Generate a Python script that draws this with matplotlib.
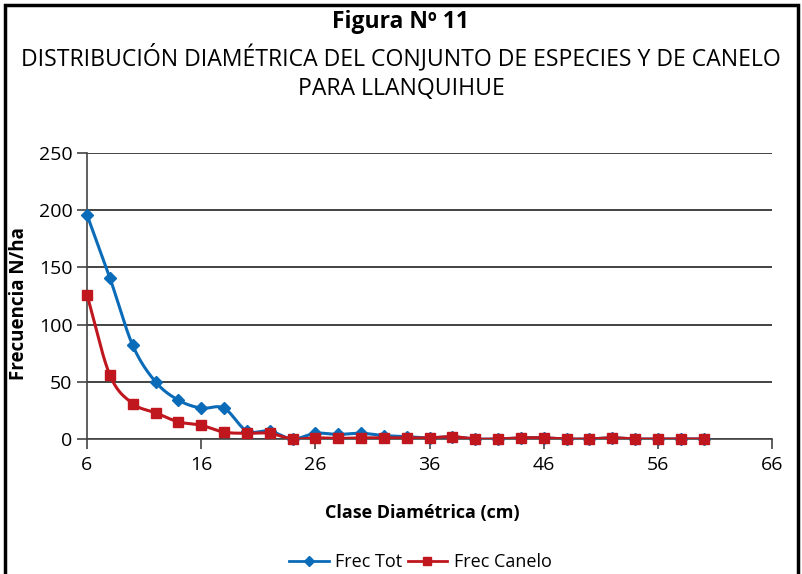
import numpy as np
import matplotlib
matplotlib.use("Agg")
import matplotlib.pyplot as plt
from matplotlib.patches import Rectangle

clase = [6, 8, 10, 12, 14, 16, 18, 20, 22, 24, 26, 28, 30, 32, 34, 36, 38, 40,
         42, 44, 46, 48, 50, 52, 54, 56, 58, 60]
frec_tot = [196, 141, 82, 50, 34, 27, 27, 7, 7, 0, 5, 4, 5, 3, 2, 1, 2, 0,
            0, 1, 1, 0, 0, 1, 0, 0, 0, 0]
frec_canelo = [126, 56, 31, 23, 15, 12, 6, 5, 5, 0, 1, 0.5, 1, 1, 1, 1, 2, 0,
               0, 1, 1, 0, 0, 1, 0, 0, 0, 0]
x_ticks = [6, 16, 26, 36, 46, 56, 66]
y_ticks = [0, 50, 100, 150, 200, 250]

plt.rcParams['font.family'] = ['Open Sans', 'DejaVu Sans']


def smooth(x, y, n=20):
    x = np.asarray(x, float)
    y = np.asarray(y, float)
    px = np.concatenate([[2 * x[0] - x[1]], x, [2 * x[-1] - x[-2]]])
    py = np.concatenate([[2 * y[0] - y[1]], y, [2 * y[-1] - y[-2]]])
    xs, ys = [], []
    t = np.linspace(0, 1, n, endpoint=False)
    for i in range(1, len(px) - 2):
        p0, p1, p2, p3 = (np.array([px[j], py[j]]) for j in range(i - 1, i + 3))
        for tt in t:
            pt = 0.5 * ((2 * p1) + (-p0 + p2) * tt + (2 * p0 - 5 * p1 + 4 * p2 - p3) * tt ** 2
                        + (-p0 + 3 * p1 - 3 * p2 + p3) * tt ** 3)
            xs.append(pt[0]); ys.append(pt[1])
    xs.append(x[-1]); ys.append(y[-1])
    return np.array(xs), np.array(ys)


fig = plt.figure(figsize=(8.02, 5.74), dpi=100)
W, H = 802, 574
ax = fig.add_axes([87 / W, 1 - 439 / H, (772 - 87) / W, (439 - 153) / H])

blue = '#0A6BB8'
red = '#C0161E'

sx, sy = smooth(clase, frec_tot)
ax.plot(sx, sy, color=blue, lw=2.2, zorder=3)
ax.plot(clase, frec_tot, ls='none', marker='D', ms=6.5, color=blue, zorder=4, clip_on=False)
sx, sy = smooth(clase, frec_canelo)
ax.plot(sx, sy, color=red, lw=2.2, zorder=5)
ax.plot(clase, frec_canelo, ls='none', marker='s', ms=6.5, color=red, zorder=6, clip_on=False)

# legend proxies
ax.plot([], [], color=blue, lw=2, marker='D', ms=5.5, label='Frec Tot')
ax.plot([], [], color=red, lw=2, marker='s', ms=5.5, label='Frec Canelo')

ax.set_xlim(6, 66)
ax.set_ylim(0, 250)
ax.set_xticks(x_ticks)
ax.set_yticks(y_ticks)
ax.grid(axis='y', color='#222222', lw=1.2)
ax.set_axisbelow(True)
for s in ['top', 'right']:
    ax.spines[s].set_visible(False)
for s in ['left', 'bottom']:
    ax.spines[s].set_color('#444444')
    ax.spines[s].set_linewidth(1.2)
ax.tick_params(axis='both', labelsize=14, color='#444444', length=7, width=1.2)
ax.tick_params(axis='x', pad=5)
ax.set_xlabel('Clase Diamétrica (cm)', fontsize=13, fontweight='bold')
ax.xaxis.set_label_coords(0.49, -0.228)
ax.set_ylabel('Frecuencia N/ha', fontsize=13.5, fontweight='bold')
ax.yaxis.set_label_coords(-0.084, 0.475)

fig.text(0.5, 1 - 22 / H, 'Figura Nº 11', ha='center', va='center', fontsize=16.5, fontweight='bold')
fig.text(0.5, 1 - 58 / H, 'DISTRIBUCIÓN DIAMÉTRICA DEL CONJUNTO DE ESPECIES Y DE CANELO',
         ha='center', va='center', fontsize=16.6)
fig.text(0.5, 1 - 89 / H, 'PARA LLANQUIHUE', ha='center', va='center', fontsize=16.6)

fig.legend(loc='center', bbox_to_anchor=(0.524, 1 - 562 / H), ncol=2, frameon=False,
           fontsize=13, handlelength=2.2, columnspacing=0.3, handletextpad=0.35)

fig.patches.append(Rectangle((5 / W, -0.05), (798 - 5) / W, 1 - 5 / H + 0.05,
                             transform=fig.transFigure, fill=False, ec='black', lw=2.5))

fig.savefig('out.png', dpi=100)
